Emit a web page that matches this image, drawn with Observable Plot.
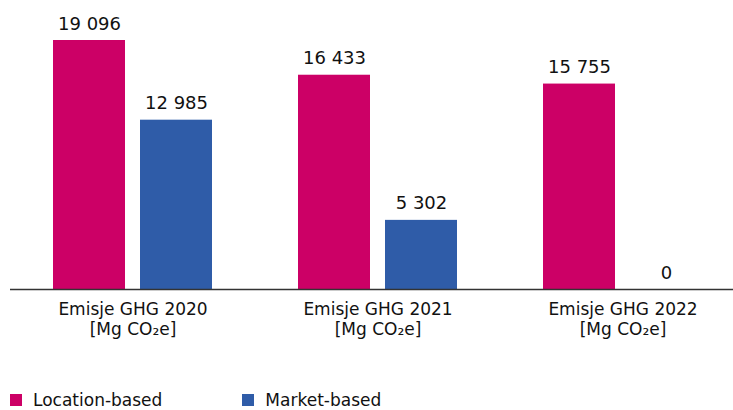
<!DOCTYPE html>
<html>
<head>
<meta charset="utf-8">
<script src="https://cdn.jsdelivr.net/npm/d3@7"></script>
<script src="https://cdn.jsdelivr.net/npm/@observablehq/plot@0.6"></script>
<style>
  body { margin: 0; background: #fff; font-family: "DejaVu Sans", sans-serif; overflow: hidden; }
  #legend { display: flex; margin-top: 46px; font-size: 17px; line-height: 18px; height: 18px; color: #111; }
  .item { display: flex; align-items: center; }
  .sw { width: 12px; height: 12px; display: inline-block; margin-right: 11px; }
</style>
</head>
<body>
<div id="chart"></div>
<div id="legend"></div>
<script>
const years = ["2020", "2021", "2022"];
const series = ["Location-based", "Market-based"];
const locationValues = [19096, 16433, 15755];
const marketValues = [12985, 5302, 0];
const colors = ["#cc0066", "#2f5ca8"];

const data = [];
years.forEach((yr, i) => {
  data.push({year: yr, series: series[0], value: locationValues[i]});
  data.push({year: yr, series: series[1], value: marketValues[i]});
});

const fmt = v => d3.format(",")(v).replace(/,/g, " ");

const chart = Plot.plot({
  width: 733,
  height: 345,
  marginLeft: 10,
  marginRight: -12,
  marginTop: 0,
  marginBottom: 56,
  style: {fontFamily: "'DejaVu Sans', sans-serif", fontSize: "17px", color: "#111"},
  fx: {domain: years, padding: 0, label: null},
  x: {domain: series, paddingInner: 15/87, paddingOuter: 43/87, axis: null},
  y: {domain: [0, 22164], axis: null},
  color: {domain: series, range: colors},
  marks: [
    Plot.barY(data, {fx: "year", x: "series", y: "value", fill: "series"}),
    Plot.text(data, {fx: "year", x: "series", y: "value", text: d => fmt(d.value), lineAnchor: "bottom", dy: -11, fontSize: 18, fill: "#111"}),
    Plot.ruleY([0], {stroke: "#333", strokeWidth: 1.5}),
    Plot.axisFx({anchor: "bottom", tickSize: 0, tickPadding: 11, fontSize: 17, lineHeight: 1.2, tickFormat: y => `Emisje GHG ${y}\n[Mg CO₂e]`, label: null})
  ]
});
document.getElementById("chart").append(chart);

const legend = document.getElementById("legend");
series.forEach((s, i) => {
  const item = document.createElement("div");
  item.className = "item";
  item.style.marginLeft = i === 0 ? "10px" : "80px";
  item.innerHTML = `<span class="sw" style="background:${colors[i]}"></span><span>${s}</span>`;
  legend.append(item);
});
</script>
</body>
</html>
